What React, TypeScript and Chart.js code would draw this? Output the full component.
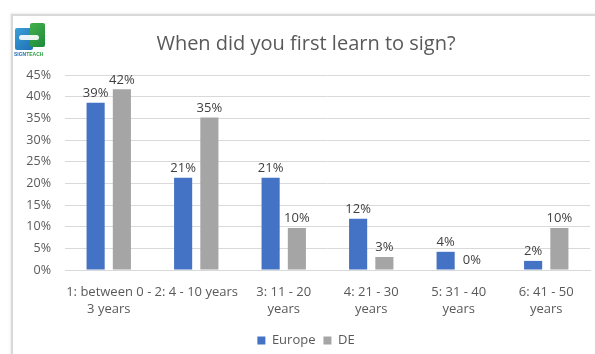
import React, { useEffect, useRef } from "react";
import { Chart, registerables } from "chart.js";

Chart.register(...registerables);

const categories: (string | string[])[] = [
  ["1: between 0 -", "3 years"],
  "2: 4 - 10 years",
  ["3: 11 - 20", "years"],
  ["4: 21 - 30", "years"],
  ["5: 31 - 40", "years"],
  ["6: 41 - 50", "years"],
];
const europeValues = [38.6, 21.3, 21.3, 11.8, 4.2, 2.1];
const deValues = [41.7, 35.2, 9.7, 3.0, 0.0, 9.7];
const seriesNames = ["Europe", "DE"];
const titleText = "When did you first learn to sign?";

const FONT = "'Open Sans', 'Liberation Sans', sans-serif";
const TEXT = "#595959";

const labelPlugin = {
  id: "barValueLabels",
  afterDatasetsDraw(chart: any) {
    const ctx = chart.ctx;
    ctx.save();
    ctx.font = `13px ${FONT}`;
    ctx.fillStyle = "#404040";
    ctx.textAlign = "center";
    ctx.textBaseline = "bottom";
    chart.data.datasets.forEach((ds: any, di: number) => {
      const meta = chart.getDatasetMeta(di);
      meta.data.forEach((el: any, i: number) => {
        const v = ds.data[i];
        ctx.fillText(Math.round(v) + "%", el.x, el.y - 3);
      });
    });
    ctx.restore();
  },
};

export default function App() {
  const ref = useRef<HTMLCanvasElement>(null);
  useEffect(() => {
    if (!ref.current) return;
    const chart = new Chart(ref.current, {
      type: "bar",
      data: {
        labels: categories,
        datasets: [
          {
            label: seriesNames[0],
            data: europeValues,
            backgroundColor: "#4472C4",
            barPercentage: 0.69,
            categoryPercentage: 0.6,
          },
          {
            label: seriesNames[1],
            data: deValues,
            backgroundColor: "#A5A5A5",
            barPercentage: 0.69,
            categoryPercentage: 0.6,
          },
        ],
      },
      options: {
        responsive: false,
        animation: false,
        layout: { padding: { left: 22, right: 5, top: 0, bottom: 0 } },
        plugins: {
          title: {
            display: true,
            text: titleText,
            color: TEXT,
            font: { family: FONT, size: 20, weight: "normal" },
            padding: { top: 32, bottom: 19 },
          },
          legend: {
            position: "bottom",
            maxHeight: 28,
            labels: {
              color: TEXT,
              font: { family: FONT, size: 13 },
              boxWidth: 8,
              boxHeight: 8,
              padding: 8,
            },
          },
          tooltip: { enabled: false },
        },
        scales: {
          x: {
            grid: { display: false, drawTicks: false },
            border: { display: true, color: "#D9D9D9" },
            ticks: {
              color: TEXT,
              font: { family: FONT, size: 13, lineHeight: 1.3 },
              padding: 14,
              maxRotation: 0,
              autoSkip: false,
            },
            afterFit: (s: any) => {
              s.height = 56;
            },
          },
          y: {
            min: 0,
            max: 45,
            grid: { color: "#D9D9D9", drawTicks: false },
            border: { display: false },
            ticks: {
              stepSize: 5,
              color: TEXT,
              font: { family: FONT, size: 12.5 },
              padding: 14,
              callback: (v: any) => v + "%",
            },
            afterFit: (s: any) => {
              s.width = 43;
            },
          },
        },
      },
      plugins: [labelPlugin],
    });
    return () => chart.destroy();
  }, []);

  return (
    <div
      style={{
        position: "fixed",
        left: 0,
        top: 0,
        width: 595,
        height: 354,
        background: "#fff",
        overflow: "hidden",
      }}
    >
      <div
        style={{
          position: "absolute",
          left: 11,
          top: 14,
          width: 590,
          height: 345,
          borderTop: "2px solid #d9d9d9",
          borderLeft: "2px solid #d9d9d9",
          boxShadow: "-1px -1px 2px #eeeeee",
        }}
      />
      <canvas
        ref={ref}
        width={595}
        height={354}
        style={{ position: "absolute", left: 0, top: 0 }}
      />
      <div style={{ position: "absolute", left: 15, top: 23, width: 32, height: 36 }}>
        <div
          style={{
            position: "absolute",
            left: 0,
            top: 5,
            width: 18,
            height: 22,
            background: "linear-gradient(135deg,#3aa0d8,#1f6fb5)",
            borderRadius: 2,
          }}
        />
        <div
          style={{
            position: "absolute",
            left: 15,
            top: 0,
            width: 15,
            height: 24,
            background: "linear-gradient(135deg,#45b04a,#1d8a3a)",
            borderRadius: 2,
          }}
        />
        <div
          style={{
            position: "absolute",
            left: 4,
            top: 12,
            width: 20,
            height: 5,
            background: "#ffffff",
            borderRadius: 3,
            opacity: 0.9,
          }}
        />
        <div
          style={{
            position: "absolute",
            left: -1,
            top: 28,
            fontFamily: "'Liberation Sans', sans-serif",
            fontSize: 5,
            fontWeight: "bold",
            whiteSpace: "nowrap",
            letterSpacing: 0,
          }}
        >
          <span style={{ color: "#1f6fb5" }}>SIGN</span>
          <span style={{ color: "#2e9a45" }}>TEACH</span>
        </div>
      </div>
    </div>
  );
}
